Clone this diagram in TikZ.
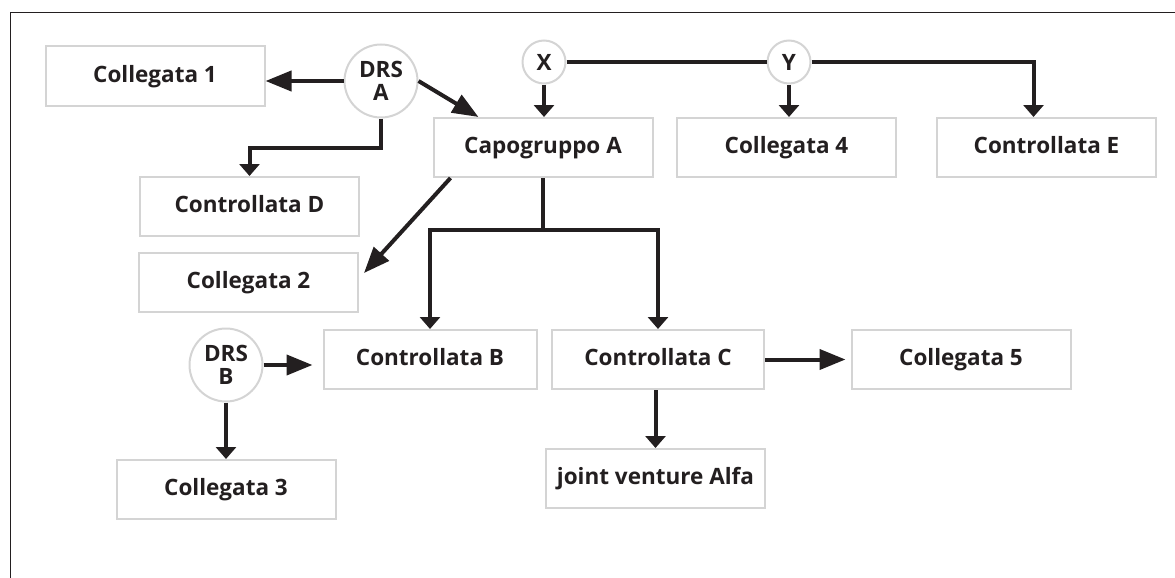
\documentclass[tikz,border=0pt]{standalone}
\usepackage{fontspec}
\setmainfont{Open Sans}
\usetikzlibrary{arrows.meta}
\definecolor{ink}{HTML}{231F20}
\definecolor{rim}{HTML}{D4D4D4}
\begin{document}
\begin{tikzpicture}[x=1pt,y=-1pt,
    label font/.style={font=\fontsize{22.5}{23}\selectfont\bfseries, text=ink},
    box/.style={draw=rim, line width=2pt, minimum width=219pt, minimum height=59pt, inner sep=0pt, text height=17pt, text depth=5pt, label font},
    ring/.style={circle, draw=rim, line width=2pt, fill=white, inner sep=0pt, align=center, label font},
    link/.style={draw=ink, line width=4pt},
    harrow/.style={link, -{Triangle[length=26pt,width=20pt]}},
    varrow/.style={link, -{Triangle[length=12pt,width=20pt]}}]
    \useasboundingbox (0,0) rectangle (1175,578);
    \draw[ink, line width=1pt] (1175,12.5) -- (10,12.5) -- (10,578);

    \node (coll1) at (155,76) [box] {Collegata 1};
    \node (capoA) at (543,147.5) [box] {Capogruppo A};
    \node (coll4) at (786.5,147.5) [box] {Collegata 4};
    \node (ctrlE) at (1046.5,147.5) [box] {Controllata E};
    \node (ctrlD) at (249.5,206.5) [box] {Controllata D};
    \node (coll2) at (248.5,282) [box] {Collegata 2};
    \node (ctrlB) at (430,359.5) [box, minimum width=213pt] {Controllata B};
    \node (ctrlC) at (658,359.5) [box, minimum width=212pt] {Controllata C};
    \node (coll5) at (961,359.5) [box] {Collegata 5};
    \node (coll3) at (226,489.5) [box] {Collegata 3};
    \node (jv) at (655.5,478.5) [box] {joint venture Alfa};

    \node (drsA) at (381,81) [ring, minimum size=73pt] {DRS\\A};
    \node (nodeX) at (544,62) [ring, minimum size=43pt] {X};
    \node (nodeY) at (789,62) [ring, minimum size=43pt] {Y};
    \node (drsB) at (226,365) [ring, minimum size=73pt] {DRS\\B};

    \draw[harrow] (drsA.west) -- (drsA.west -| coll1.east);
    \draw[harrow] (drsA.east) -- ([xshift=46pt]capoA.north west);
    \draw[varrow] (drsA.south) -- ++(0,29.5) -| (ctrlD.north);

    \draw[varrow] (nodeX.south) -- (nodeX.south |- capoA.north);
    \draw[link] (nodeX.east) -- (nodeY.west);
    \draw[varrow] (nodeY.south) -- (nodeY.south |- coll4.north);
    \draw[varrow] (nodeY.east) -| ([xshift=-13pt]ctrlE.north);

    \draw[harrow] ([xshift=18pt]capoA.south west) -- ([xshift=5pt,yshift=9pt]coll2.east);
    \draw[link] (capoA.south) -- ++(0,51.5) coordinate (split);
    \draw[varrow] (split) -| (ctrlB.north);
    \draw[varrow] (split) -| (ctrlC.north);

    \draw[harrow, shorten >=10pt] (drsB.east) -- (drsB.east -| ctrlB.west);
    \draw[varrow] (drsB.south) -- (drsB.south |- coll3.north);
    \draw[harrow, shorten >=5pt] (ctrlC.east) -- (ctrlC.east -| coll5.west);
    \draw[varrow] (jv.north |- ctrlC.south) -- (jv.north);
\end{tikzpicture}
\end{document}
